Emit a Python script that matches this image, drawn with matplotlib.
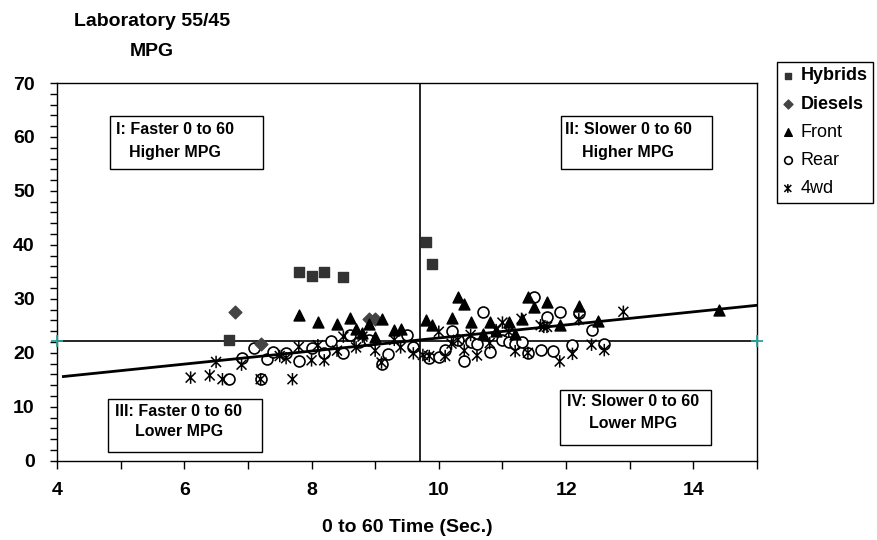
import matplotlib
matplotlib.use("Agg")
import matplotlib.pyplot as plt
from matplotlib.path import Path
from matplotlib.patches import Rectangle
from matplotlib.ticker import MultipleLocator

plt.rcParams['font.family'] = ['Liberation Sans', 'DejaVu Sans']

# ---- data: 0-60 time (s) vs laboratory 55/45 MPG ----
hybrid_x = [6.7, 7.8, 8.0, 8.2, 8.5, 9.8, 9.9]
hybrid_y = [22.4, 34.9, 34.3, 34.9, 34.1, 40.6, 36.5]

diesel_x = [6.8, 7.2, 8.9, 9.0]
diesel_y = [27.5, 21.7, 26.3, 26.3]

front_x = [7.8, 8.1, 8.4, 8.6, 8.7, 8.8, 8.9, 9.0, 9.1, 9.3, 9.4, 9.8, 9.9,
           10.2, 10.3, 10.4, 10.5, 10.7, 10.8, 10.9, 11.1, 11.2, 11.3, 11.4,
           11.5, 11.7, 11.9, 12.2, 12.5, 14.4]
front_y = [27.0, 25.7, 25.4, 26.5, 24.4, 23.6, 25.4, 23.0, 26.2, 24.3, 24.5, 26.1, 25.1,
           26.4, 30.3, 29.1, 25.7, 23.5, 25.7, 24.0, 25.7, 23.4, 26.3, 30.3,
           28.4, 29.5, 25.2, 28.6, 25.8, 27.9]

rear_x = [6.7, 6.9, 7.1, 7.2, 7.3, 7.4, 7.6, 7.8, 8.0, 8.2, 8.3, 8.5, 8.6, 8.75,
          8.9, 9.1, 9.2, 9.5, 9.6, 9.85, 10.0, 10.1, 10.2, 10.3, 10.4, 10.5,
          10.6, 10.7, 10.8, 11.0, 11.1, 11.2, 11.3, 11.4, 11.5, 11.6, 11.7,
          11.8, 11.9, 12.1, 12.2, 12.4, 12.6]
rear_y = [15.1, 19.0, 20.8, 15.1, 18.8, 20.2, 19.9, 18.4, 20.8, 19.9, 22.2, 20.0, 23.3, 22.0,
          22.4, 17.9, 19.7, 23.3, 21.1, 19.1, 19.2, 20.5, 24.0, 22.4, 18.4, 22.0,
          21.7, 27.6, 20.2, 22.4, 22.0, 21.7, 22.0, 20.0, 30.4, 20.6, 26.7,
          20.4, 27.6, 21.4, 27.3, 24.2, 21.7]

awd_x = [6.1, 6.4, 6.5, 6.6, 6.9, 7.2, 7.5, 7.6, 7.7, 7.8, 8.0, 8.1, 8.2, 8.4,
         8.5, 8.7, 8.8, 9.0, 9.1, 9.3, 9.4, 9.6, 9.75, 9.85, 10.0, 10.1, 10.2,
         10.3, 10.4, 10.5, 10.6, 10.8, 10.9, 11.0, 11.1, 11.2, 11.3, 11.4,
         11.6, 11.65, 11.7, 11.9, 12.1, 12.2, 12.4, 12.6, 12.9]
awd_y = [15.4, 15.8, 18.3, 15.1, 17.8, 15.1, 19.4, 19.0, 15.1, 21.1, 18.6, 21.4, 18.6, 20.4,
         23.0, 21.0, 23.0, 20.4, 18.2, 22.4, 21.0, 19.9, 19.6, 19.4, 23.9, 19.4, 21.7,
         22.4, 20.4, 23.3, 19.5, 21.8, 24.2, 25.6, 23.9, 20.3, 26.3, 20.0,
         25.1, 24.8, 24.8, 18.4, 19.8, 26.2, 21.5, 20.5, 27.6]

# linear trend across all vehicles
trend_x = [4.1, 15.0]
trend_y = [15.6, 28.8]

# quadrant split: median acceleration time and median MPG
split_x = 9.7
split_y = 22.2

quadrant_lines = [
    ["I: Faster 0 to 60", "Higher MPG"],
    ["II: Slower 0 to 60", "Higher MPG"],
    ["III: Faster 0 to 60", "Lower MPG"],
    ["IV: Slower 0 to 60", "Lower MPG"],
]

series_labels = ["Hybrids", "Diesels", "Front", "Rear", "4wd"]

# ---- layout (pixel based) ----
W, H = 878, 540
fig = plt.figure(figsize=(W / 100, H / 100), dpi=100)


def fx(x):
    return x / W


def fy(y):
    return 1 - y / H


ax = fig.add_axes([fx(57), fy(460.7), 700 / W, 377.7 / H])
ax.set_xlim(4, 15)
ax.set_ylim(0, 70)

# asterisk-like star marker: an X with a vertical bar through it
star = Path([(-1, -1), (1, 1), (-1, 1), (1, -1), (0, -1.25), (0, 1.25)],
            [Path.MOVETO, Path.LINETO, Path.MOVETO, Path.LINETO, Path.MOVETO, Path.LINETO])

# quadrant guide lines
ax.plot([4, 15], [split_y, split_y], color='black', lw=1.2, zorder=2)
ax.plot([4, 15], [split_y, split_y], ls='none', marker='+', ms=9, mew=1.3,
        color='#2aa198', clip_on=False, zorder=6)
ax.plot([split_x, split_x], [0, 70], color='black', lw=1.2, zorder=2)

h_hyb = ax.scatter(hybrid_x, hybrid_y, marker='s', s=50, color='#333333', zorder=4)
h_dsl = ax.scatter(diesel_x, diesel_y, marker='D', s=42, color='#444444', zorder=4)
h_frt = ax.scatter(front_x, front_y, marker='^', s=62, color='black', zorder=4)
h_rer = ax.scatter(rear_x, rear_y, marker='o', s=62, facecolors='white',
                   edgecolors='black', linewidths=1.2, zorder=3)
h_awd = ax.scatter(awd_x, awd_y, marker=star, s=80, facecolors='none',
                   edgecolors='black', linewidths=1.1, zorder=3)

ax.plot(trend_x, trend_y, color='black', lw=2, zorder=5)

# axes styling
for sp in ax.spines.values():
    sp.set_linewidth(1.0)
ax.xaxis.set_major_locator(MultipleLocator(2))
ax.xaxis.set_minor_locator(MultipleLocator(1))
ax.yaxis.set_major_locator(MultipleLocator(10))
ax.yaxis.set_minor_locator(MultipleLocator(2))
ax.tick_params(which='both', direction='out', width=1)
ax.tick_params(axis='x', which='both', length=6, pad=9)
ax.tick_params(axis='y', which='both', length=5, pad=11)
for lab in ax.get_xticklabels() + ax.get_yticklabels():
    lab.set_fontsize(14)
    lab.set_fontweight('bold')
ax.set_xlabel("0 to 60 Time (Sec.)", fontsize=14, fontweight='bold', labelpad=15)

# title above the y axis
fig.text(fx(152), fy(22), "Laboratory 55/45", ha='center', va='center',
         fontsize=14, fontweight='bold')
fig.text(fx(152), fy(51), "MPG", ha='center', va='center',
         fontsize=14, fontweight='bold')

# quadrant text boxes: (left, top, right, bottom, text centre x, line1 y, line2 y)
boxes = [
    (110, 116, 263, 169, 175, 129, 152),
    (561, 116, 712, 169, 628, 129, 152),
    (108, 399, 262, 452, 179, 411, 432),
    (560, 390, 711, 445, 633, 402, 423),
]
for (l, t, r, b, cx, y1, y2), lines in zip(boxes, quadrant_lines):
    fig.add_artist(Rectangle((fx(l), fy(b)), (r - l) / W, (b - t) / H,
                             transform=fig.transFigure, facecolor='white',
                             edgecolor='black', lw=1.0, zorder=7))
    fig.text(fx(cx), fy(y1), lines[0], ha='center', va='center', fontsize=11.5,
             fontweight='bold', zorder=8)
    fig.text(fx(cx), fy(y2), lines[1], ha='center', va='center', fontsize=11.5,
             fontweight='bold', zorder=8)

# legend at the right edge
leg = fig.legend([h_hyb, h_dsl, h_frt, h_rer, h_awd], series_labels,
                 loc='upper left', bbox_to_anchor=(fx(777), fy(62)),
                 fontsize=13, frameon=True, fancybox=False, edgecolor='black',
                 framealpha=1, borderpad=0.3, labelspacing=0.62,
                 handlelength=0.6, handletextpad=0.4, markerscale=0.7,
                 borderaxespad=0)
leg.get_frame().set_linewidth(1.0)
for t in leg.get_texts()[:2]:
    t.set_fontweight('bold')

fig.savefig("out.png", dpi=100)
